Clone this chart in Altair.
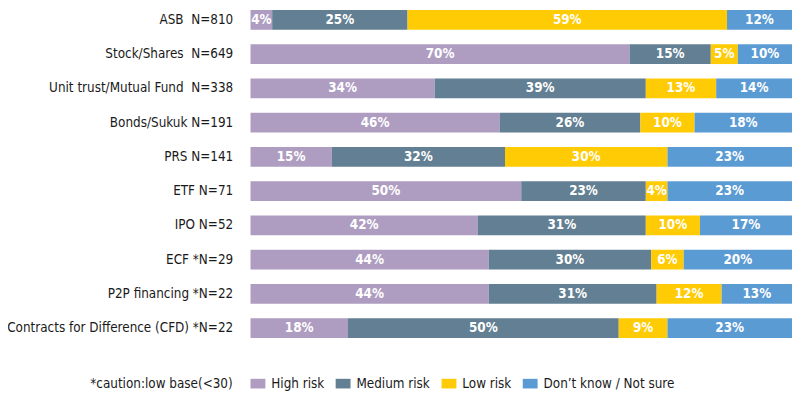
import altair as alt
import pandas as pd

NB = "\u00a0"
categories = [
    "ASB" + NB + NB + "N=810",
    "Stock/Shares" + NB + NB + "N=649",
    "Unit trust/Mutual Fund" + NB + NB + "N=338",
    "Bonds/Sukuk N=191",
    "PRS N=141",
    "ETF N=71",
    "IPO N=52",
    "ECF *N=29",
    "P2P financing *N=22",
    "Contracts for Difference (CFD) *N=22",
]
series = ["High risk", "Medium risk", "Low risk", "Don\u2019t know / Not sure"]
high_risk = [4, 70, 34, 46, 15, 50, 42, 44, 44, 18]
medium_risk = [25, 15, 39, 26, 32, 23, 31, 30, 31, 50]
low_risk = [59, 5, 13, 10, 30, 4, 10, 6, 12, 9]
dont_know = [12, 10, 14, 18, 23, 23, 17, 20, 13, 23]
colors = ["#AE9DC1", "#627F93", "#FFCB05", "#5B9BD4"]
note = "*caution:low base(<30)"

rows = []
for i, c in enumerate(categories):
    for j, (s, vals) in enumerate(zip(series, [high_risk, medium_risk, low_risk, dont_know])):
        rows.append({"cat": c, "series": s, "order": j, "value": vals[i]})
df = pd.DataFrame(rows)

FONT = "DejaVu Sans Condensed, sans-serif"

ysc = alt.Scale(domain=categories, paddingInner=0.42, paddingOuter=0)
xsc = alt.Scale(domain=[0, 100], nice=False)

base = alt.Chart(df).transform_stack(
    stack="value", groupby=["cat"], sort=[alt.SortField("order")], as_=["x0", "x1"]
).transform_calculate(
    mid="(datum.x0 + datum.x1) / 2", label="datum.value + '%'"
)

bars = base.mark_bar(size=20).encode(
    y=alt.Y("cat:N", scale=ysc, sort=categories, title=None,
            axis=alt.Axis(domain=False, ticks=False, labelPadding=18, labelFont=FONT,
                          labelFontSize=13.5, labelColor="#1a1a1a", labelLimit=400)),
    x=alt.X("x0:Q", scale=xsc, axis=None),
    x2="x1:Q",
    color=alt.Color("series:N", scale=alt.Scale(domain=series, range=colors),
                    legend=alt.Legend(title=None, orient="none", legendX=0, legendY=370,
                                      direction="horizontal", columns=4,
                                      symbolType="M-1,-0.65H1V0.65H-1Z", symbolSize=225,
                                      symbolStrokeWidth=0, symbolOpacity=1,
                                      labelFont=FONT, labelFontSize=13.5, labelColor="#1a1a1a",
                                      labelOffset=6, columnPadding=11, padding=0,
                                      labelLimit=300)),
)

texts = base.mark_text(color="white", font=FONT, fontSize=13.5, fontWeight="bold",
                       baseline="middle").encode(
    y=alt.Y("cat:N", scale=ysc, sort=categories),
    x=alt.X("mid:Q", scale=xsc),
    text="label:N",
)

note_df = pd.DataFrame({"t": [note]})
note_text = alt.Chart(note_df).mark_text(
    align="right", baseline="middle", font=FONT, fontSize=13.5, color="#1a1a1a"
).encode(x=alt.value(-18), y=alt.value(378), text="t:N")

chart = alt.layer(bars, texts, note_text).properties(
    width=547, height=331.5,
    autosize=alt.AutoSizeParams(type="none"),
    padding={"left": 245, "top": 0, "right": 0, "bottom": 55},
).configure_view(stroke=None)

chart.save("out.html", embed_options={"renderer": "svg", "actions": False})
